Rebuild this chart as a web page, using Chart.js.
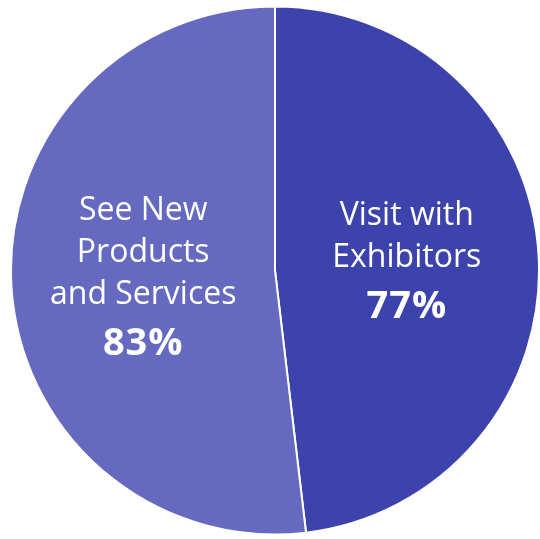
<!DOCTYPE html>
<html>
<head>
<meta charset="utf-8">
<script src="https://cdn.jsdelivr.net/npm/chart.js@4.4.0/dist/chart.umd.min.js"></script>
<style>
    html, body { margin: 0; padding: 0; background: #ffffff; }
    #box { width: 540px; height: 539px; }
</style>
</head>
<body>
<div id="box"><canvas id="pieChart"></canvas></div>
<script>
// Chart data
const categories = ["Visit with Exhibitors", "See New Products and Services"];
const labelLines = [["Visit with", "Exhibitors"], ["See New", "Products", "and Services"]];
const values = [77, 83];
const sliceColors = ['#3c43ad', '#6569c0'];

// Draw the text inside each slice
const sliceLabels = {
    id: 'sliceLabels',
    afterDatasetsDraw(chart) {
        const ctx = chart.ctx;
        const meta = chart.getDatasetMeta(0);
        const lineH = 42;
        const pctGap = 51;
        meta.data.forEach((arc, i) => {
            const p = arc.getCenterPoint();
            const lines = labelLines[i];
            const blockH = (lines.length - 1) * lineH + pctGap;
            let y = p.y - blockH / 2 + 9;
            ctx.save();
            ctx.fillStyle = '#ffffff';
            ctx.textAlign = 'center';
            ctx.textBaseline = 'alphabetic';
            ctx.font = '32px "Open Sans", sans-serif';
            lines.forEach((t) => {
                ctx.fillText(t, p.x, y);
                y += lineH;
            });
            y += pctGap - lineH;
            ctx.font = 'bold 38px "Open Sans", sans-serif';
            ctx.letterSpacing = '1px';
            ctx.fillText(values[i] + '%', p.x, y);
            ctx.restore();
        });
    }
};

const ctx = document.getElementById('pieChart').getContext('2d');
new Chart(ctx, {
    type: 'pie',
    data: {
        labels: categories,
        datasets: [{
            data: values,
            backgroundColor: sliceColors,
            borderColor: '#ffffff',
            borderWidth: 2
        }]
    },
    options: {
        responsive: true,
        maintainAspectRatio: false,
        animation: false,
        layout: { padding: { left: 10, right: 0, top: 5, bottom: 3 } },
        plugins: {
            legend: { display: false },
            tooltip: { enabled: false }
        }
    },
    plugins: [sliceLabels]
});
</script>
</body>
</html>
